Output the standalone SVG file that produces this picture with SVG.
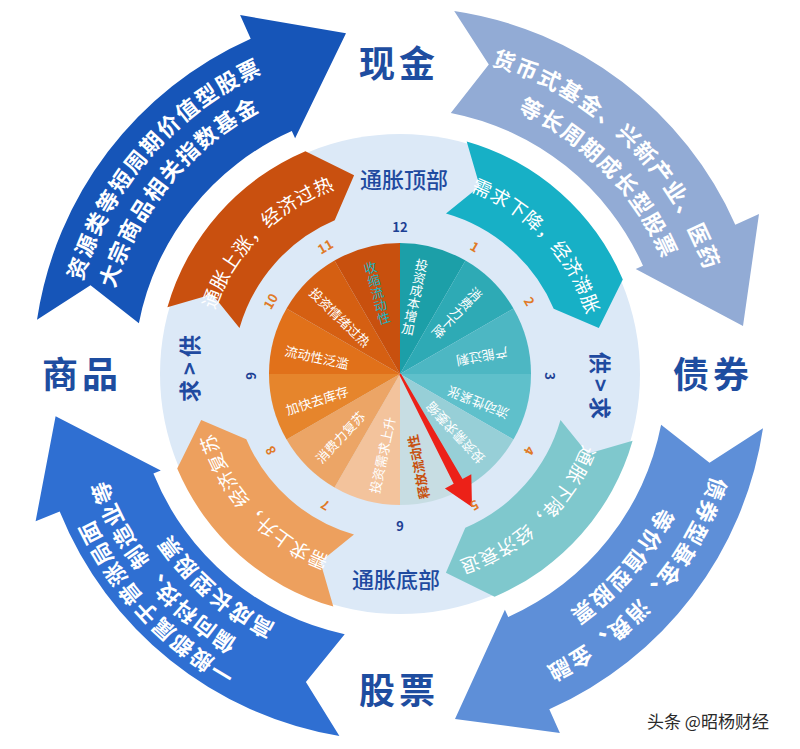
<svg xmlns="http://www.w3.org/2000/svg" width="800" height="749" viewBox="0 0 800 749">
<style>
text{font-family:"Noto Sans CJK SC","Noto Sans",sans-serif}
.big{font-size:36px;font-weight:bold;fill:#1e4da0;letter-spacing:4px}
.mid{font-size:22px;font-weight:500;fill:#1f4aa0}
.arw{font-size:22px;font-weight:bold;fill:#fff;letter-spacing:2.5px}
.ma{font-size:19px;fill:#fff;letter-spacing:1.5px}
.pt{font-size:13px;fill:#fff}
.no{font-size:13px;font-weight:bold;fill:#e07a28}
.nb{fill:#1c3f94}
.sd{font-size:22px;font-weight:bold;fill:#1f4aa0;letter-spacing:5px}
</style>
<defs>
<path id="tlo" d="M63.2,427.3 A341,341 0 0 1 406,33.1"/>
<path id="tli" d="M97.2,430.1 A308,308 0 0 1 397.3,66"/>
<path id="tro" d="M365.3,43.8 A332,332 0 0 1 731.2,397.2"/>
<path id="tri" d="M376.7,77.9 A297,297 0 0 1 695.6,402.5"/>
<path id="bro" d="M733.8,321.1 A338,338 0 0 1 394.1,711.9"/>
<path id="bri" d="M698.3,326.8 A302,302 0 0 1 394.7,676"/>
<path id="blo" d="M418.3,723.5 A350,350 0 0 1 52.6,331.3"/>
<path id="blm" d="M394.4,696 A322,322 0 0 1 83.9,312.6"/>
<path id="bli" d="M445.4,660.4 A290,290 0 0 1 110,368.9"/>
<path id="mo" d="M195.8,356.1 A205,205 0 0 1 382.1,169.8"/>
<path id="mt" d="M425,170.5 A205,205 0 0 1 604.7,363.3"/>
<path id="mlt" d="M603.5,399 A205,205 0 0 1 410.7,578.7"/>
<path id="mlo" d="M375,577.5 A205,205 0 0 1 195.3,384.7"/>
</defs>
<rect width="800" height="749" fill="#fff"/>

<g id="outer-commodity">
<path d="M37,319.8 L90.5,285.2 L138.9,323.2 A266,266 0 0 1 291.8,131 L295.1,138.3 L346,33.2 L240.1,15 L250.7,38.7 A367,367 0 0 0 37,319.8 Z" fill="#1655b8"/>
<text class="arw" dominant-baseline="central"><textPath href="#tlo" startOffset="50%" text-anchor="middle">资源类等短周期价值型股票</textPath></text>
<text class="arw" dominant-baseline="central"><textPath href="#tli" startOffset="50%" text-anchor="middle">大宗商品相关指数基金</textPath></text>
</g>
<g id="outer-cash">
<path d="M454.2,11 L488.8,64.5 L450.8,112.9 A266,266 0 0 1 643,265.8 L635.7,269.1 L743,326 L759,214.1 L735.3,224.7 A367,367 0 0 0 454.2,11 Z" fill="#92abd5"/>
<text class="arw" dominant-baseline="central"><textPath href="#tro" startOffset="50%" text-anchor="middle">货币式基金、兴新产业、医药</textPath></text>
<text class="arw" dominant-baseline="central"><textPath href="#tri" startOffset="50%" text-anchor="middle">等长周期成长型股票</textPath></text>
</g>
<g id="outer-bond">
<path d="M763,428.2 L709.5,462.8 L661.1,424.8 A266,266 0 0 1 508.2,617 L504.9,609.7 L455,719 L559.9,733 L549.3,709.3 A367,367 0 0 0 763,428.2 Z" fill="#5e8fd8"/>
<text class="arw" dominant-baseline="central"><textPath href="#bro" startOffset="50%" text-anchor="middle">债券型基金、消费、金融</textPath></text>
<text class="arw" dominant-baseline="central"><textPath href="#bri" startOffset="50%" text-anchor="middle">等价值型股票</textPath></text>
</g>
<g id="outer-stock">
<path d="M339.4,736 L305.9,681.9 L344.7,634.2 A266,266 0 0 1 153.4,473.6 L160.8,470.6 L55.6,416.3 L35.6,521.2 L59.7,511.5 A367,367 0 0 0 339.4,736 Z" fill="#2f6fd2"/>
<text class="arw" dominant-baseline="central"><textPath href="#blo" startOffset="50%" text-anchor="middle">一般都属于普涨局面</textPath></text>
<text class="arw" dominant-baseline="central"><textPath href="#blm" startOffset="50%" text-anchor="middle">偏向科技、制造业等</textPath></text>
<text class="arw" dominant-baseline="central"><textPath href="#bli" startOffset="50%" text-anchor="middle">高成长型股票</textPath></text>
</g>

<g id="ring">
<circle cx="400" cy="374" r="240" fill="#dce9f7"/>
</g>

<g id="mid-overheat">
<path d="M167.4,307.3 L212.2,294.3 L239.5,328 A167,167 0 0 1 334.7,220.3 L354.1,175.2 L305.4,151.2 A242,242 0 0 0 167.4,307.3 Z" fill="#c9500f"/>
<text class="ma" dominant-baseline="central"><textPath href="#mo" startOffset="50%" text-anchor="middle">通胀上涨，经济过热</textPath></text>
</g>
<g id="mid-stagflation">
<path d="M466.7,141.4 L479.7,186.2 L446,213.5 A167,167 0 0 1 553.7,308.7 L598.8,328.1 L622.8,279.4 A242,242 0 0 0 466.7,141.4 Z" fill="#17b0c6"/>
<text class="ma" dominant-baseline="central"><textPath href="#mt" startOffset="50%" text-anchor="middle">需求下降，经济滞胀</textPath></text>
</g>
<g id="mid-recession">
<path d="M632.6,440.7 L587.8,453.7 L560.5,420 A167,167 0 0 1 465.3,527.7 L445.9,572.8 L494.6,596.8 A242,242 0 0 0 632.6,440.7 Z" fill="#7fc8cd"/>
<text class="ma" dominant-baseline="central"><textPath href="#mlt" startOffset="50%" text-anchor="middle">通胀下降，经济衰退</textPath></text>
</g>
<g id="mid-recovery">
<path d="M333.3,606.6 L320.3,561.8 L354,534.5 A167,167 0 0 1 246.3,439.3 L201.2,419.9 L177.2,468.6 A242,242 0 0 0 333.3,606.6 Z" fill="#eda05e"/>
<text class="ma" dominant-baseline="central"><textPath href="#mlo" startOffset="50%" text-anchor="middle">需求上升，经济复苏</textPath></text>
</g>

<g id="pie">
<path d="M400,374 L400,243 A131,131 0 0 1 465.5,260.55 Z" fill="#1c9fa8"/>
<path d="M400,374 L465.5,260.55 A131,131 0 0 1 513.45,308.5 Z" fill="#2eaab5"/>
<path d="M400,374 L513.45,308.5 A131,131 0 0 1 531,374 Z" fill="#4db7c3"/>
<path d="M400,374 L531,374 A131,131 0 0 1 513.45,439.5 Z" fill="#5fc0cb"/>
<path d="M400,374 L513.45,439.5 A131,131 0 0 1 465.5,487.45 Z" fill="#97cfd7"/>
<path d="M400,374 L465.5,487.45 A131,131 0 0 1 400,505 Z" fill="#c7dde3"/>
<path d="M400,374 L400,505 A131,131 0 0 1 334.5,487.45 Z" fill="#f3c39c"/>
<path d="M400,374 L334.5,487.45 A131,131 0 0 1 286.55,439.5 Z" fill="#eca566"/>
<path d="M400,374 L286.55,439.5 A131,131 0 0 1 269,374 Z" fill="#e6852c"/>
<path d="M400,374 L269,374 A131,131 0 0 1 286.55,308.5 Z" fill="#e1711a"/>
<path d="M400,374 L286.55,308.5 A131,131 0 0 1 334.5,260.55 Z" fill="#d55f12"/>
<path d="M400,374 L334.5,260.55 A131,131 0 0 1 400,243 Z" fill="#c8500e"/>
<text class="pt" writing-mode="tb" text-anchor="middle" transform="translate(415,297) rotate(12)">投资成本增加</text>
<text class="pt" writing-mode="tb" text-anchor="middle" transform="translate(457,313) rotate(44)">消费力下降</text>
<text class="pt" text-anchor="middle" dominant-baseline="central" transform="translate(482,357) rotate(170)">产能过剩</text>
<text class="pt" text-anchor="middle" dominant-baseline="central" transform="translate(478,403) rotate(202)">流动性紧张</text>
<text class="pt" text-anchor="middle" dominant-baseline="central" transform="translate(455,433) rotate(227)">投资需求萎缩</text>
<text class="pt" text-anchor="middle" dominant-baseline="central" transform="translate(418,467) rotate(259)" style="fill:#c8500e;font-weight:bold">释放流动性</text>
<text class="pt" text-anchor="middle" dominant-baseline="central" transform="translate(382,455) rotate(-78)">投资需求上升</text>
<text class="pt" text-anchor="middle" dominant-baseline="central" transform="translate(340,437) rotate(-47)">消费力复苏</text>
<text class="pt" text-anchor="middle" dominant-baseline="central" transform="translate(317,400) rotate(-18)">加快去库存</text>
<text class="pt" text-anchor="middle" dominant-baseline="central" transform="translate(317,357) rotate(12)">流动性泛滥</text>
<text class="pt" text-anchor="middle" dominant-baseline="central" transform="translate(340,317) rotate(44)">投资情绪过热</text>
<text class="pt" writing-mode="tb" text-anchor="middle" transform="translate(377,293) rotate(-15)" style="fill:#1ab3c0">收缩流动性</text>
</g>

<g id="pointer">
<polygon points="400.8,373.6 462.5,478.9 471.3,474.2 472,507 444.9,488.4 453.7,483.7 399.2,374.4" fill="#ec2118"/>
</g>

<g id="numbers" text-anchor="middle" dominant-baseline="central">
<text class="no" transform="translate(475,246.1) rotate(30)">1</text>
<text class="no" transform="translate(529.9,301) rotate(60)">2</text>
<text class="no nb" transform="translate(550,376) rotate(90)">3</text>
<text class="no" transform="translate(529.9,451) rotate(120)">4</text>
<text class="no" transform="translate(475,505.9) rotate(150)">5</text>
<text class="no nb" transform="translate(400,526) rotate(180)">6</text>
<text class="no" transform="translate(325,505.9) rotate(210)">7</text>
<text class="no" transform="translate(270.1,451) rotate(240)">8</text>
<text class="no nb" transform="translate(250,376) rotate(270)">9</text>
<text class="no" transform="translate(270.1,301) rotate(300)">10</text>
<text class="no" transform="translate(325,246.1) rotate(330)">11</text>
<text class="no nb" transform="translate(400,226)">12</text>
</g>

<g id="labels" text-anchor="middle" dominant-baseline="central">
<text class="big" x="399" y="61">现金</text>
<text class="big" x="713" y="372">债券</text>
<text class="big" x="399" y="688">股票</text>
<text class="big" x="82" y="372">商品</text>
<text class="mid" x="404" y="178">通胀顶部</text>
<text class="mid" x="396" y="578">通胀底部</text>
<text class="sd" transform="translate(188,366) rotate(-90)">求&gt;供</text>
<text class="sd" transform="translate(602,388) rotate(90)">供&gt;求</text>
</g>
<text x="708" y="720" text-anchor="middle" dominant-baseline="central" style="font-size:17px;fill:#2a2a2a">头条 @昭杨财经</text>
</svg>
